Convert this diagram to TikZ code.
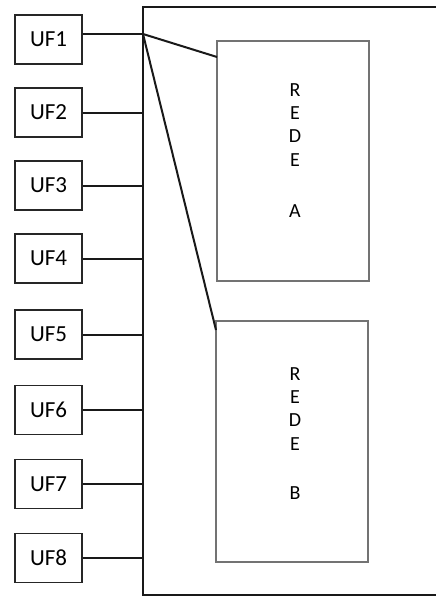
\documentclass[tikz,border=0pt]{standalone}
\usepackage{fontspec}
\setmainfont{Carlito}
\begin{document}
\begin{tikzpicture}[x=1pt,y=-1pt,
  ufbox/.style={draw=black!85, line width=1.8pt, minimum width=67pt, minimum height=49pt, inner sep=0pt, font=\fontsize{23}{23}\selectfont},
  redebox/.style={draw=black!55, line width=2pt},
  redetext/.style={align=center, inner sep=0pt, anchor=base, font=\fontsize{20}{23.3}\selectfont},
  link/.style={draw=black!90, line width=2pt}]
\useasboundingbox (0,0) rectangle (436,597);
\fill[white] (0,0) rectangle (436,597);
% outer frame
\draw[line width=2pt, black!90] (440,7) -- (143,7) -- (143,595) -- (440,595);
% REDE boxes
\draw[redebox] (217,41) rectangle (369,281);
\draw[redebox] (216,321) rectangle (368,562);
\node[redetext] (ta) at (295,217.5) {R\\E\\D\\E\\[28pt]A};
\node[redetext] (tb) at (295,499.5) {R\\E\\D\\E\\[26pt]B};
\coordinate (hub) at (143,34);
\coordinate (ea) at (217,57);
\coordinate (eb) at (216,330);
% UF boxes
\foreach \i/\y in {1/39.5,2/112.5,3/185.5,4/258.5,5/334.5,6/410,7/484,8/558}{
  \node[ufbox] (uf\i) at (48.5,\y) {UF\i};
}
\draw[link] (uf1.east |- hub) -- (hub);
\foreach \i in {2,...,8}{
  \draw[link] (uf\i.east) -- (uf\i.east -| hub);
}
\draw[link] (hub) -- (ea);
\draw[link] (hub) -- (eb);
\end{tikzpicture}
\end{document}
